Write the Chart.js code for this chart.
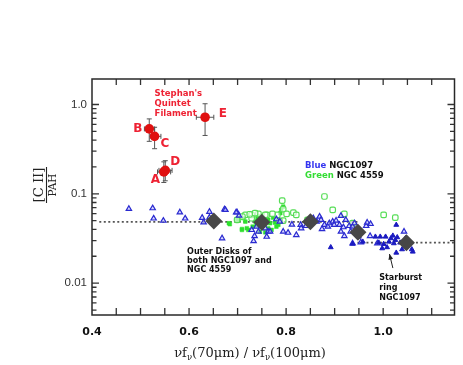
<!DOCTYPE html>
<html><head><meta charset="utf-8">
<script src="https://cdn.jsdelivr.net/npm/chart.js@4.4.1/dist/chart.umd.min.js"></script>
<style>html,body{margin:0;padding:0;background:#fff}</style>
</head><body>
<canvas id="c" width="463" height="365"></canvas>
<script>
// ---- tick labels / tick positions ----
const xTickValues = [0.4, 0.6, 0.8, 1.0];
const xTickLabels = ['0.4', '0.6', '0.8', '1.0'];
const xTickMarks  = [0.45, 0.5, 0.55, 0.6, 0.65, 0.7, 0.75, 0.8, 0.85, 0.9, 0.95, 1.0, 1.05, 1.1];
const yTickValues = [0.01, 0.1, 1.0];
const yTickLabels = ['0.01', '0.1', '1.0'];
const yMinorMarks = [0.005, 0.006, 0.007, 0.008, 0.009, 0.02, 0.03, 0.04, 0.05, 0.06, 0.07, 0.08, 0.09, 0.2, 0.3, 0.4, 0.5, 0.6, 0.7, 0.8, 0.9];

// ---- Stephan's Quintet filament points (A..E) ----
const filNames = ['A', 'B', 'C', 'D', 'E'];
const filX     = [0.548, 0.518, 0.529, 0.551, 0.633];
const filY     = [0.176, 0.533, 0.440, 0.183, 0.720];
const filXLo   = [0.535, 0.508, 0.520, 0.538, 0.615];
const filXHi   = [0.562, 0.529, 0.542, 0.565, 0.651];
const filYLo   = [0.134, 0.387, 0.320, 0.140, 0.450];
const filYHi   = [0.228, 0.690, 0.556, 0.235, 1.020];

// ---- NGC1097 (blue triangles, open) ----
const n1097OpenX = [0.476,0.525,0.527,0.547,0.581,0.592,0.627,0.630,0.642,0.673,0.668,0.699,0.703,0.729,0.735,0.733,0.739,0.743,0.757,0.763,0.760,0.780,0.794,0.804,0.821,0.830,0.831,0.869,0.872,0.863,0.874,0.879,0.886,0.889,0.896,0.899,0.903,0.910,0.913,0.913,0.918,0.923,0.930,0.933,0.937,0.941,0.920,0.937,0.954,0.965,0.967,0.974,0.973,0.988,1.043,0.642,0.675,0.697,0.767,0.787,0.841,0.856,0.848,0.812];
const n1097OpenY = [0.068,0.069,0.053,0.050,0.062,0.053,0.054,0.048,0.063,0.067,0.0318,0.062,0.057,0.0394,0.0337,0.0296,0.0429,0.0377,0.0412,0.0377,0.0331,0.052,0.0377,0.0367,0.0346,0.0449,0.0412,0.0556,0.0511,0.0489,0.0404,0.0449,0.0429,0.0469,0.0489,0.0449,0.0501,0.0449,0.0566,0.0377,0.0423,0.0511,0.0437,0.0377,0.0429,0.0469,0.0337,0.0279,0.0286,0.0437,0.0476,0.0460,0.0337,0.0279,0.0377,0.0542,0.066,0.062,0.0377,0.0489,0.0437,0.0533,0.0489,0.0452];
// ---- NGC1097 starburst ring (blue triangles, filled) ----
const n1097FillX = [0.892,0.950,0.984,0.991,1.001,0.998,1.005,1.008,1.012,1.016,1.020,1.022,1.027,1.029,1.035,1.039,1.046,1.049,1.059,1.061,1.027,1.025,0.994,0.937,0.958];
const n1097FillY = [0.0252,0.0331,0.0331,0.0284,0.0274,0.0245,0.0331,0.0252,0.0291,0.0318,0.0340,0.0279,0.0449,0.0326,0.0284,0.0239,0.0318,0.0267,0.0239,0.0225,0.0219,0.0304,0.0331,0.0276,0.0291];

// ---- NGC 4559 (green, open) ----
const n4559OpenX = [0.792,0.879,0.896,0.920,0.937,1.001,1.025,0.794,0.782,0.801,0.815,0.821,0.794,0.772,0.760,0.743,0.729,0.716,0.710,0.729,0.725,0.786,0.844,0.699,0.736,0.757];
const n4559OpenY = [0.0838,0.0933,0.0661,0.0596,0.0469,0.0581,0.0542,0.0673,0.0581,0.0596,0.0616,0.0581,0.0501,0.0596,0.0581,0.0596,0.0581,0.0581,0.0556,0.0533,0.0591,0.0497,0.0511,0.0511,0.0607,0.0581];
// ---- NGC 4559 (green, filled) ----
const n4559FillX = [0.794,0.790,0.788,0.682,0.702,0.716,0.722,0.709,0.763,0.757,0.777,0.784,0.770,0.737,0.746,0.757,0.712,0.699,0.684,0.709,0.719,0.731,0.739,0.757,0.767,0.780,0.746,0.757,0.763,0.773,0.741];
const n4559FillY = [0.0720,0.0661,0.0607,0.0469,0.0511,0.0489,0.0394,0.0394,0.0511,0.0469,0.0476,0.0449,0.0394,0.0489,0.0556,0.0533,0.0533,0.0511,0.0457,0.0404,0.0412,0.0429,0.0449,0.0489,0.0469,0.0429,0.0377,0.0371,0.0412,0.0542,0.0533];

// ---- binned averages (grey diamonds) ----
const binX = [0.651, 0.750, 0.850, 0.948, 1.048];
const binY = [0.0497, 0.0480, 0.0488, 0.0371, 0.0284];

// ---- dotted trend (two levels) ----
const trendX = [0.415, 0.947, null, 0.947, 1.147];
const trendY = [0.0485, 0.0485, null, 0.0284, 0.0284];

// ---- axis ranges ----
const X_MIN = 0.4, X_MAX = 1.147, Y_MIN = 0.0044, Y_MAX = 1.93;

function pts(xs, ys){ return xs.map((x,i)=> (x===null? {x:NaN,y:NaN} : {x:x, y:ys[i]})); }
function atX(vals, y){ return vals.map(v => ({x:v, y:y})); }
function atY(vals, x){ return vals.map(v => ({x:x, y:v})); }

const RED = '#ee2233';
const notes = [
  {parts:[["Stephan's",RED]], x:0.529, y:1.33, font:'bold 8.5px "DejaVu Sans"'},
  {parts:[["Quintet",RED]],   x:0.529, y:1.026, font:'bold 8.5px "DejaVu Sans"'},
  {parts:[["Filament",RED]],  x:0.529, y:0.792, font:'bold 8.5px "DejaVu Sans"'},
  {parts:[["B",RED]], x:0.485, y:0.537, font:'bold 12px "DejaVu Sans"'},
  {parts:[["C",RED]], x:0.541, y:0.365, font:'bold 12px "DejaVu Sans"'},
  {parts:[["D",RED]], x:0.561, y:0.229, font:'bold 12px "DejaVu Sans"'},
  {parts:[["A",RED]], x:0.521, y:0.144, font:'bold 12px "DejaVu Sans"'},
  {parts:[["E",RED]], x:0.661, y:0.792, font:'bold 12px "DejaVu Sans"'},
  {parts:[["Blue ",'#3535f0'],["NGC1097",'#111']], x:0.839, y:0.206, font:'bold 8.5px "DejaVu Sans"'},
  {parts:[["Green ",'#33dd33'],["NGC 4559",'#111']], x:0.839, y:0.159, font:'bold 8.5px "DejaVu Sans"'},
  {parts:[["Outer Disks of",'#111']], x:0.596, y:0.0225, font:'bold 8px "DejaVu Sans"'},
  {parts:[["both NGC1097 and",'#111']], x:0.596, y:0.01766, font:'bold 8px "DejaVu Sans"'},
  {parts:[["NGC 4559",'#111']], x:0.596, y:0.0140, font:'bold 8px "DejaVu Sans"'},
  {parts:[["Starburst",'#111']], x:0.992, y:0.01159, font:'bold 8px "DejaVu Sans"'},
  {parts:[["ring",'#111']], x:0.992, y:0.00885, font:'bold 8px "DejaVu Sans"'},
  {parts:[["NGC1097",'#111']], x:0.992, y:0.0069, font:'bold 8px "DejaVu Sans"'}
];
const arrow = {x1:1.020, y1:0.01475, x2:1.013, y2:0.0212};

const decor = {
  id:'decor',
  beforeDatasetsDraw(chart){
    const ctx = chart.ctx, xs = chart.scales.x, ys = chart.scales.y;
    ctx.save();
    ctx.strokeStyle = '#555'; ctx.lineWidth = 1;
    for (let i=0;i<filX.length;i++){
      const px = xs.getPixelForValue(filX[i]), py = ys.getPixelForValue(filY[i]);
      const xl = xs.getPixelForValue(filXLo[i]), xh = xs.getPixelForValue(filXHi[i]);
      const yl = ys.getPixelForValue(filYLo[i]), yh = ys.getPixelForValue(filYHi[i]);
      ctx.beginPath();
      ctx.moveTo(px, yl); ctx.lineTo(px, yh);
      ctx.moveTo(xl, py); ctx.lineTo(xh, py);
      ctx.moveTo(px-2.5, yl); ctx.lineTo(px+2.5, yl);
      ctx.moveTo(px-2.5, yh); ctx.lineTo(px+2.5, yh);
      ctx.moveTo(xl, py-2.5); ctx.lineTo(xl, py+2.5);
      ctx.moveTo(xh, py-2.5); ctx.lineTo(xh, py+2.5);
      ctx.stroke();
    }
    ctx.restore();
  },
  afterDraw(chart){
    const ctx = chart.ctx, a = chart.chartArea, xs = chart.scales.x, ys = chart.scales.y;
    ctx.save();
    ctx.setLineDash([]);
    ctx.strokeStyle = 'rgb(40,40,40)'; ctx.lineWidth = 1.5;
    ctx.strokeRect(a.left, a.top, a.right-a.left, a.bottom-a.top);
    // notes
    ctx.textBaseline = 'middle'; ctx.textAlign = 'left';
    notes.forEach(n => {
      ctx.font = n.font;
      let px = xs.getPixelForValue(n.x); const py = ys.getPixelForValue(n.y);
      n.parts.forEach(([t,c]) => { ctx.fillStyle = c; ctx.fillText(t, px, py); px += ctx.measureText(t).width; });
    });
    // arrow
    const ax1 = xs.getPixelForValue(arrow.x1), ay1 = ys.getPixelForValue(arrow.y1);
    const ax2 = xs.getPixelForValue(arrow.x2), ay2 = ys.getPixelForValue(arrow.y2);
    ctx.strokeStyle = '#222'; ctx.lineWidth = 1; ctx.fillStyle = '#222';
    ctx.beginPath(); ctx.moveTo(ax1, ay1); ctx.lineTo(ax2, ay2); ctx.stroke();
    const ang = Math.atan2(ay2-ay1, ax2-ax1);
    ctx.beginPath(); ctx.moveTo(ax2, ay2);
    ctx.lineTo(ax2-6*Math.cos(ang-0.4), ay2-6*Math.sin(ang-0.4));
    ctx.lineTo(ax2-6*Math.cos(ang+0.4), ay2-6*Math.sin(ang+0.4));
    ctx.closePath(); ctx.fill();
    // y title: [C II] / PAH  (rotated fraction)
    ctx.save();
    ctx.translate(46.5, 185);
    ctx.rotate(-Math.PI/2);
    ctx.fillStyle = '#222'; ctx.strokeStyle = '#222'; ctx.lineWidth = 1.1;
    ctx.textAlign = 'center';
    ctx.font = '13px "DejaVu Serif"'; ctx.textBaseline = 'alphabetic';
    ctx.fillText('[C II]', 0, -3.5);
    ctx.beginPath(); ctx.moveTo(-18, 0); ctx.lineTo(18, 0); ctx.stroke();
    ctx.font = '10.5px "DejaVu Serif"'; ctx.textBaseline = 'top';
    ctx.fillText('PAH', 0, 2);
    ctx.restore();
    // x title
    const segs = [['ν',13,0],['f',13,0],['ν',8.5,3],['(70μm) / ν',13,0],['f',13,0],['ν',8.5,3],['(100μm)',13,0]];
    let w = 0;
    segs.forEach(([t,sz]) => { ctx.font = sz+'px "DejaVu Serif"'; w += ctx.measureText(t).width; });
    let tx = 250 - w/2; const by = 357;
    ctx.fillStyle = '#222'; ctx.textAlign = 'left'; ctx.textBaseline = 'alphabetic';
    segs.forEach(([t,sz,dy]) => { ctx.font = sz+'px "DejaVu Serif"'; ctx.fillText(t, tx, by+dy); tx += ctx.measureText(t).width; });
    ctx.restore();
  }
};

// tick-mark datasets: a 'line' point centred on the frame, clipped to the plot area, leaves an inward tick
const tickSet = (data, rot, r) => ({ data, pointStyle:'line', rotation:rot, radius:r, borderColor:'#333', borderWidth:1.3, backgroundColor:'#333', clip:0, order:7 });

new Chart(document.getElementById('c'), {
  type: 'scatter',
  data: { datasets: [
    tickSet(atX(xTickMarks, Y_MIN), 90, 7),
    tickSet(atX(xTickMarks, Y_MAX), 90, 6),
    tickSet(atY(yMinorMarks, X_MIN), 0, 4.5),
    tickSet(atY(yTickValues, X_MIN), 0, 7),
    tickSet(atY(yMinorMarks, X_MAX), 0, 4.5),
    tickSet(atY(yTickValues, X_MAX), 0, 7),
    { type:'line', data: pts(trendX, trendY), borderColor:'#555', borderWidth:1.6, borderDash:[2,2.5], pointRadius:0, spanGaps:false, fill:false, order:6 },
    { data: pts(n4559FillX, n4559FillY), pointStyle:'rect', radius:2.6, backgroundColor:'#2ee02e', borderColor:'#2ee02e', borderWidth:0.5, order:5 },
    { data: pts(n4559OpenX, n4559OpenY), pointStyle:'rectRounded', radius:3.2, backgroundColor:'rgba(255,255,255,0.6)', borderColor:'#55dd55', borderWidth:1.2, order:4 },
    { data: pts(n1097OpenX, n1097OpenY), pointStyle:'triangle', radius:3.1, backgroundColor:'rgba(190,190,255,0.6)', borderColor:'#2a2ad0', borderWidth:1.2, order:3 },
    { data: pts(n1097FillX, n1097FillY), pointStyle:'triangle', radius:2.8, backgroundColor:'#1a1ac0', borderColor:'#1a1ac0', borderWidth:1, order:2 },
    { data: pts(binX, binY), pointStyle:'rectRot', radius:8.5, backgroundColor:'#474747', borderColor:'#474747', borderWidth:0, order:1 },
    { data: pts(filX, filY), pointStyle:'circle', radius:4.8, backgroundColor:'#e01010', borderColor:'#e01010', borderWidth:0, order:0 }
  ]},
  options: {
    responsive:false, animation:false, events:[],
    layout:{ padding:{ top:79, right:5, left:0, bottom:0 } },
    plugins:{ legend:{display:false}, tooltip:{enabled:false} },
    scales:{
      x:{ type:'linear', position:'bottom', min:X_MIN, max:X_MAX,
        afterFit(s){ s.height = 50; s.paddingLeft = 0; s.paddingRight = 0; },
        grid:{ display:false, drawTicks:true, tickLength:11 }, border:{display:false},
        ticks:{ stepSize:0.05, autoSkip:false, maxRotation:0, padding:0, color:'#111',
          font:{ family:'"DejaVu Sans"', size:11, weight:'bold' },
          callback(v){ const i = xTickValues.findIndex(t=>Math.abs(t-v)<1e-6); return i<0 ? '' : xTickLabels[i]; } } },
      y:{ type:'logarithmic', position:'left', min:Y_MIN, max:Y_MAX,
        afterFit(s){ s.width = 92; s.paddingTop = 0; s.paddingBottom = 0; },
        grid:{ display:false, drawTicks:true, tickLength:5 }, border:{display:false},
        ticks:{ autoSkip:false, padding:0, color:'#333',
          font:{ family:'"Liberation Sans"', size:11.5 },
          callback(v){ const i = yTickValues.findIndex(t=>Math.abs(t-v)<1e-9); return i<0 ? '' : yTickLabels[i]; } } }
    }
  },
  plugins:[decor]
});
</script></body></html>
